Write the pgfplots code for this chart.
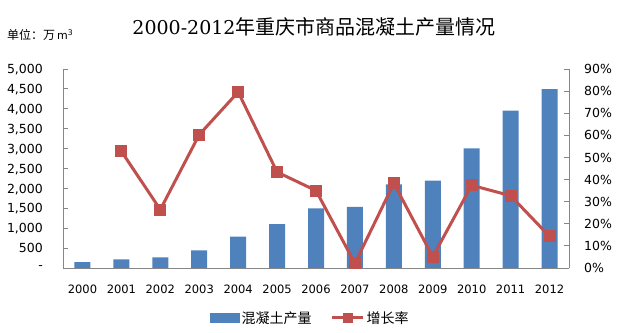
\documentclass[border=0pt]{standalone}
\usepackage{pgfplots}
\pgfplotsset{compat=1.18}
\usepackage{fontspec}
\setmainfont{DejaVu Sans}
\newfontfamily\cjk{Noto Sans CJK SC}
\newfontfamily\titnum{DejaVu Serif}
\definecolor{barblue}{HTML}{4F81BD}
\definecolor{linered}{HTML}{C0504D}
\definecolor{axgray}{HTML}{868686}
\pgfplotsset{
  mylineleg/.style={legend image code/.code={\draw[mark repeat=2,mark phase=2,mark size=4.5pt,##1] plot coordinates {(0pt,0pt) (15.5pt,0pt) (31pt,0pt)};}},
  mybarleg/.style={legend image code/.code={\fill[barblue] (0pt,-4.5pt) rectangle (29pt,4.5pt);}},
}
\begin{document}
\begin{tikzpicture}
\path[use as bounding box] (0pt,0pt) rectangle (618pt,332pt);
\node[anchor=center,inner sep=0pt] at (314pt,305pt) {\fontsize{19pt}{22pt}\selectfont\titnum 2000-2012\fontsize{20pt}{22pt}\selectfont\cjk 年重庆市商品混凝土产量情况};
\node[anchor=west,inner sep=0pt] at (7pt,297pt) {\fontsize{12pt}{14pt}\selectfont\cjk 单位：万\,\fontsize{11pt}{13pt}\selectfont\rmfamily m\textsuperscript{3}};
\begin{axis}[
  at={(63pt,64pt)}, anchor=south west,
  scale only axis, width=506pt, height=199pt,
  xmin=-0.5, xmax=12.5, ymin=0, ymax=5000,
  axis x line*=bottom, axis y line*=left,
  axis line style={axgray, line width=0.8pt},
  xtick={0,...,12},
  xticklabels={2000,2001,2002,2003,2004,2005,2006,2007,2008,2009,2010,2011,2012},
  xtick style={draw=none},
  ytick={0,500,...,5000},
  yticklabels={{-},{500},{1,000},{1,500},{2,000},{2,500},{3,000},{3,500},{4,000},{4,500},{5,000}},
  tick align=inside, major tick length=5pt,
  ytick style={axgray, line width=0.8pt},
  yticklabel style={anchor=east, inner sep=0pt, xshift=-20pt, text depth=0pt, font=\fontsize{12.5pt}{14pt}\selectfont},
  xticklabel style={anchor=center, inner sep=0pt, yshift=-21pt, text depth=0pt, font=\fontsize{11.5pt}{13pt}\selectfont},
  /pgf/number format/assume math mode=true,
]
\addplot[ybar, bar width=16pt, fill=barblue, draw=none] coordinates {
(0,150) (1,218) (2,268) (3,444) (4,787) (5,1105) (6,1500) (7,1533) (8,2102) (9,2194) (10,3007) (11,3952) (12,4497)};
\end{axis}
\begin{axis}[
  at={(63pt,64pt)}, anchor=south west,
  scale only axis, width=506pt, height=199pt,
  xmin=-0.5, xmax=12.5, ymin=0, ymax=90,
  hide x axis, axis y line*=right,
  axis line style={axgray, line width=0.8pt},
  ytick={0,10,...,90},
  yticklabel={\pgfmathprintnumber{\tick}\%},
  tick align=inside, major tick length=5pt,
  ytick style={axgray, line width=0.8pt},
  yticklabel style={anchor=west, inner sep=0pt, xshift=15pt, text depth=0pt, font=\fontsize{12.5pt}{14pt}\selectfont},
  /pgf/number format/assume math mode=true,
  clip=false,
  legend columns=2,
  legend style={at={(0.489,-0.251)}, anchor=center, draw=none, fill=none,
    font=\fontsize{14pt}{16pt}\selectfont\cjk, inner sep=0pt,
    /tikz/every even column/.append style={column sep=17pt},
    nodes={inner sep=2pt}},
  legend cell align=left,
]
\addlegendimage{mybarleg}
\addlegendentry{混凝土产量}
\addplot[linered, line width=3pt, mark=square*, mark size=5.5pt, mark options={solid, fill=linered, draw=linered, line width=0pt}, mylineleg] coordinates {
(1,52.8) (2,26.4) (3,60.3) (4,79.6) (5,43.4) (6,35.0) (7,2.1) (8,38.3) (9,5.1) (10,37.4) (11,32.7) (12,14.3)};
\addlegendentry{增长率}
\end{axis}
\end{tikzpicture}
\end{document}
